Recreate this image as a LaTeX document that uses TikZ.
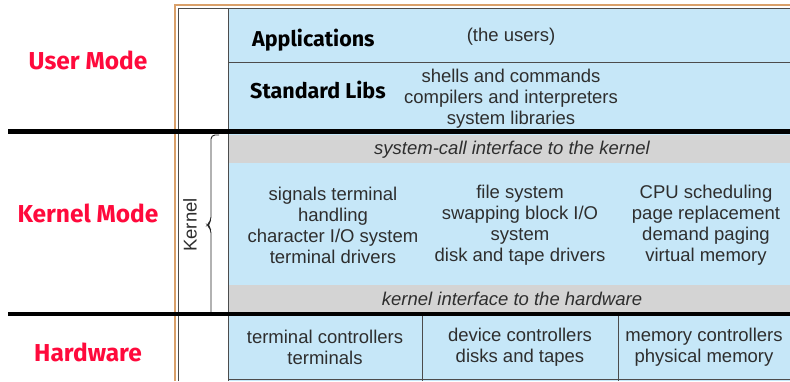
\documentclass[tikz,border=0pt]{standalone}
\usepackage{fontspec}
\setmainfont{Liberation Sans}
\newfontfamily\modefont{Fira Sans}

\definecolor{layerblue}{HTML}{C6E7F8}
\definecolor{layergray}{HTML}{D4D4D4}
\definecolor{modered}{HTML}{FF0A3C}
\definecolor{textgray}{HTML}{2E2E2E}
\definecolor{frameorange}{HTML}{D9A06A}

\begin{document}
\begin{tikzpicture}[x=1pt, y=-1pt,
    txt/.style={align=center, inner sep=0pt, text=textgray, font=\fontsize{18.5}{21}\selectfont},
    mode/.style={inner sep=0pt, text=modered, font=\modefont\bfseries\fontsize{24.5}{26}\selectfont},
    layername/.style={anchor=west, inner sep=0pt, font=\modefont\bfseries\fontsize{21.5}{24}\selectfont},
    thinline/.style={black!70, line width=0.8pt}]
    \useasboundingbox (0,0) rectangle (790,381);

    % layers
    \fill[layerblue] (228,8) rectangle (790,381);
    \fill[layergray] (228,135) rectangle (790,163);
    \fill[layergray] (228,285) rectangle (790,312);

    % frame
    \draw[frameorange, line width=1.2pt] (175,381) -- (175,5) -- (790,5);
    \draw[thinline] (178,381) -- (178,8) -- (790,8);
    \draw[thinline] (228,8) -- (228,381);
    \draw[thinline] (228,62) -- (790,62);
    \draw[thinline] (228,379) -- (790,379);
    \draw[thinline] (422,316) -- (422,381);
    \draw[thinline] (618,316) -- (618,381);

    % mode boundaries
    \draw[line width=4.5pt] (8,131.5) -- (790,131.5);
    \draw[line width=4.5pt] (8,314) -- (790,314);

    % kernel brace
    \draw[black!85, line width=0.9pt, rounded corners=4pt]
        (219,135) -- (211,135) -- (211,221) -- (207,225) -- (211,229) -- (211,312);
    \node[txt, rotate=90] (kernel) at (190,225) {Kernel};

    % user mode
    \node[layername] (apps) at (252,40) {Applications};
    \node[txt] (users) at (511,37) {(the users)};
    \node[layername] (stdlibs) at (250,90) {Standard Libs};
    \node[txt] (libs) at (511,99) {shells and commands\\compilers and interpreters\\system libraries};

    % kernel mode
    \node[txt, font=\itshape\fontsize{18.5}{21}\selectfont] (syscall) at (512,150) {system-call interface to the kernel};
    \node[txt] (signals) at (333,225) {signals terminal\\handling\\character I/O system\\terminal drivers};
    \node[txt] (files) at (520,225) {file system\\swapping block I/O\\system\\disk and tape drivers};
    \node[txt] (memory) at (706,225) {CPU scheduling\\page replacement\\demand paging\\virtual memory};
    \node[txt, font=\itshape\fontsize{18.5}{21}\selectfont] (hwiface) at (512,299) {kernel interface to the hardware};

    % hardware
    \node[txt] (termctl) at (325,347) {terminal controllers\\terminals};
    \node[txt] (devctl) at (520,347) {device controllers\\disks and tapes};
    \node[txt] (memctl) at (704,347) {memory controllers\\physical memory};

    % modes
    \node[mode] (user) at (88,60) {User Mode};
    \node[mode] (kmode) at (88,213) {Kernel Mode};
    \node[mode] (hw) at (88,352) {Hardware};
\end{tikzpicture}
\end{document}
